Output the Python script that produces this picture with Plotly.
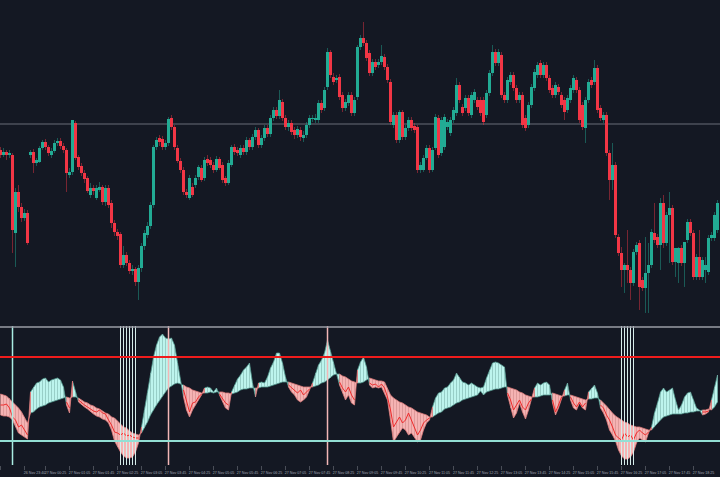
import plotly.graph_objects as go
import pandas as pd

# ---------------- price data (5-minute candles) ----------------
open_ = [850,845,848,845,845,767,808,793,782,787,
         845,848,837,838,852,858,853,845,849,857,
         859,854,850,825,828,877,843,834,827,822,
         805,812,802,810,813,798,812,797,777,768,
         766,735,745,737,729,731,718,732,754,765,
         774,795,853,862,861,853,857,882,873,852,
         839,830,808,802,813,815,823,832,822,841,
         840,835,830,841,835,822,817,835,853,850,
         845,852,848,860,853,863,870,855,862,872,
         866,882,890,884,898,882,873,877,870,865,
         870,862,865,875,881,880,880,897,892,913,
         948,923,920,923,905,892,897,905,887,903,
         953,962,957,947,927,938,935,938,943,933,
         918,875,885,860,888,863,872,880,874,873,
         830,830,842,852,830,852,882,847,853,873,
         867,880,887,915,893,892,902,885,900,900,
         900,900,885,907,927,948,937,945,905,900,
         918,925,912,900,905,882,875,895,912,925,
         937,925,935,922,912,905,913,905,900,890,
         900,910,920,910,895,872,900,920,918,932,
         892,880,885,847,820,835,763,747,730,735,
         730,717,748,757,720,712,727,735,767,763,
         755,797,757,785,792,738,737,752,737,760,
         778,767,723,743,723,730,728,762,762,770]
close = [845,848,845,847,770,808,793,782,787,757,
         848,837,840,852,858,853,847,849,857,859,
         854,850,827,828,880,842,833,827,821,809,
         812,809,812,813,798,812,795,777,768,764,
         735,745,737,729,731,718,732,754,767,774,
         795,853,860,858,853,857,881,873,853,839,
         830,808,805,822,805,822,833,820,840,837,
         835,830,841,832,820,817,837,853,848,847,
         852,848,860,853,863,870,855,862,872,866,
         882,890,884,900,882,873,877,868,865,871,
         863,865,875,882,882,882,897,890,910,948,
         925,918,922,903,892,898,905,887,900,953,
         962,957,942,927,938,933,938,944,933,920,
         878,885,860,888,863,872,880,872,870,830,
         835,842,852,830,850,883,845,880,883,878,
         880,890,915,900,887,902,887,905,908,893,
         887,878,907,927,948,937,948,905,900,920,
         925,912,900,905,875,872,895,913,928,935,
         925,935,922,910,905,915,908,895,888,902,
         912,922,910,880,873,900,918,915,932,890,
         882,885,847,820,835,765,747,730,735,730,
         717,748,755,713,712,727,735,768,760,755,
         797,757,785,792,738,752,752,737,758,778,
         767,723,743,723,740,735,762,765,785,797]
high = [853,852,850,850,847,812,815,797,791,790,
        850,851,842,854,860,861,855,852,860,862,
        862,857,852,832,880,879,845,837,830,824,
        817,815,815,818,815,815,815,800,780,771,
        768,754,748,740,735,733,735,757,770,778,
        798,855,863,865,864,860,883,885,875,855,
        842,833,811,825,817,825,835,835,843,845,
        843,838,844,843,838,824,840,855,856,853,
        855,855,863,862,866,873,872,865,875,875,
        885,893,893,910,901,885,880,880,873,874,
        873,869,878,885,885,886,900,900,913,952,
        950,927,925,926,908,901,908,908,903,955,
        965,978,960,950,941,941,941,955,946,936,
        921,888,888,890,890,875,883,883,877,875,
        838,845,855,855,853,886,885,883,886,881,
        883,893,922,918,896,905,905,908,911,903,
        903,903,910,930,955,951,951,948,908,923,
        928,928,915,908,908,885,898,916,931,938,
        940,938,938,925,915,918,916,908,903,905,
        915,925,923,913,898,903,921,923,940,935,
        895,888,888,850,857,838,766,753,737,770,
        733,751,758,760,723,763,757,771,797,766,
        802,805,788,808,795,752,753,755,758,781,
        781,770,746,770,743,743,765,768,788,800]
low = [842,843,840,842,747,733,788,778,779,755,
       842,827,834,837,850,850,844,842,847,854,
       851,847,808,822,825,840,830,824,817,807,
       802,805,800,808,795,794,792,772,764,760,
       732,732,734,726,725,714,700,728,750,762,
       771,792,850,854,850,850,854,870,850,837,
       827,805,802,800,803,812,820,818,819,834,
       832,827,828,830,817,814,815,833,845,844,
       842,845,845,850,850,860,852,852,859,863,
       863,879,881,881,879,870,869,865,861,862,
       859,858,862,872,878,877,877,887,889,910,
       922,915,917,900,888,889,894,884,884,900,
       950,954,939,924,924,930,932,935,930,917,
       875,872,857,857,860,860,869,869,867,827,
       827,828,840,827,828,850,842,844,850,870,
       864,877,884,897,884,889,884,882,897,890,
       884,875,882,904,924,934,934,902,897,897,
       915,909,897,897,872,869,872,892,909,922,
       922,922,919,907,902,902,905,892,880,887,
       897,907,907,877,870,857,897,912,915,887,
       879,877,844,800,810,762,744,713,707,717,
       700,714,745,690,709,687,687,732,757,752,
       730,752,754,737,735,723,717,734,713,757,
       764,720,720,720,720,717,725,759,759,767]
price_line = 876

# ---------------- oscillator data ----------------
osc_fast = [47,46,46,45,42,35,29,27,25,23,
            70,75,79,80,83,84,80,82,83,84,82,75,
            57,49,
            81,70,
            60,57,55,53,50,48,46,45,43,42,39,32,21,15,10,6,4,4,5,10,19,
            35,52,69,89,105,117,125,128,124,123,124,117,99,79,
            65,52,45,52,57,62,67,
            74,75,74,70,74,
            67,60,54,52,
            70,77,83,87,92,95,99,79,
            65,
            79,80,79,85,94,100,109,109,99,85,
            75,70,67,62,60,62,65,72,
            79,89,97,102,109,122,110,100,89,
            77,69,62,67,59,57,
            92,100,105,95,
            77,74,75,74,75,69,62,42,20,25,30,34,32,27,29,25,20,22,32,39,42,
            55,64,69,70,74,75,79,82,89,85,80,79,77,79,77,75,74,75,84,92,99,100,99,97,95,
            67,54,44,49,59,50,43,52,62,
            74,79,77,79,80,77,
            59,47,54,64,
            72,79,
            62,54,52,59,54,52,
            70,74,77,69,
            54,49,42,32,27,21,12,6,3,3,5,10,19,24,22,20,29,
            35,49,59,70,74,70,72,74,62,52,57,65,69,70,62,54,52,
            47,48,50,
            62,75,87]
osc_slow = [68,67,66,64,60,57,54,50,45,39,
            49,50,53,55,56,57,59,60,61,62,63,64,
            65,64,
            65,65,
            64,62,60,59,57,56,54,53,51,49,48,45,44,40,38,35,34,31,29,28,27,
            29,34,40,47,52,57,62,66,70,74,76,78,79,78,
            77,75,74,72,71,70,69,
            69,69,70,69,70,
            70,70,69,69,
            68,69,70,72,73,73,74,74,
            74,
            74,75,75,75,76,77,78,79,80,80,
            80,79,78,77,76,75,75,75,
            75,76,77,79,80,82,84,87,88,
            88,86,85,83,81,80,
            79,79,80,82,
            84,83,82,81,81,80,74,67,64,62,60,59,57,55,54,52,50,49,48,47,45,
            45,47,49,50,53,54,55,57,59,60,62,63,64,65,66,67,71,67,70,71,72,73,73,74,75,
            75,74,73,72,70,69,67,66,65,
            65,65,66,67,67,67,
            69,68,67,66,
            66,67,
            67,66,65,64,63,62,
            63,63,64,64,
            62,59,56,53,49,46,44,42,40,39,37,36,35,35,34,33,32,
            32,35,39,42,45,46,47,48,48,48,48,49,49,50,50,51,51,
            52,52,53,
            52,55,60]
N = None
osc_sig = [57,57,58,54,45,42,35,37,32,27,
           N,N,N,N,N,N,N,N,N,N,N,N,
           60,54,
           N,N,
           62,59,57,55,53,51,50,52,49,48,42,37,30,29,27,29,26,27,25,24,24,
           N,N,N,N,N,N,N,N,N,N,N,N,N,N,
           72,62,50,59,60,65,68,
           N,N,N,N,N,
           68,64,59,57,
           N,N,N,N,N,N,N,N,
           68,
           N,N,N,N,N,N,N,N,N,N,
           77,74,71,69,72,67,70,73,
           N,N,N,N,N,N,N,N,N,
           80,74,70,75,67,62,
           N,N,N,N,
           79,77,78,75,78,74,65,52,35,40,45,39,42,49,42,35,27,32,39,42,44,
           N,N,N,N,N,N,N,N,N,N,N,N,N,N,N,N,N,N,N,N,N,N,N,N,N,
           69,62,52,57,62,55,52,59,63,
           N,N,N,N,N,N,
           62,50,57,65,
           N,N,
           65,59,55,60,55,59,
           N,N,N,N,
           57,54,47,42,35,27,24,22,29,25,27,22,29,32,29,27,30,
           N,N,N,N,N,N,N,N,N,N,N,N,N,N,N,N,N,
           50,50,51,
           N,N,N]
level_top = 135
level_high = 105
level_low = 21

# signal bars (candle indices) marked by vertical lines
signal_cyan = [4]
signal_white = [40, 41, 42, 43, 44, 45, 207, 208, 209, 210, 211]
signal_pink = [56, 109]

tick_labels = ["26 Nov 23:00", "26 Nov 23:40",
               "27 Nov 00:25", "27 Nov 01:05", "27 Nov 01:45", "27 Nov 02:25",
               "27 Nov 03:05", "27 Nov 03:45", "27 Nov 04:25", "27 Nov 05:05",
               "27 Nov 05:45", "27 Nov 06:25", "27 Nov 07:05", "27 Nov 07:45",
               "27 Nov 08:25", "27 Nov 09:05", "27 Nov 09:45", "27 Nov 10:25",
               "27 Nov 11:05", "27 Nov 11:45", "27 Nov 12:25", "27 Nov 13:05",
               "27 Nov 13:45", "27 Nov 14:25", "27 Nov 15:05", "27 Nov 15:45",
               "27 Nov 16:25", "27 Nov 17:05", "27 Nov 17:45", "27 Nov 18:25"]

# ---------------- build ----------------
n = len(close)
times = list(pd.date_range("2024-11-26 23:00", periods=10, freq="5min")) + \
        list(pd.date_range("2024-11-27 00:00", periods=n - 10, freq="5min"))
tstr = [t.strftime("%d Nov %H:%M") for t in times]
xs = list(range(n))
tickvals = [i for i in xs if tstr[i] in tick_labels]
ticktext = [tstr[i] for i in tickvals]

BG = "#141823"
UP = "#22ab94"
DN = "#f23645"
UPW = "rgba(34,171,148,0.45)"
DNW = "rgba(242,54,69,0.45)"

fig = go.Figure()

def wicks(sel):
    wx, wy = [], []
    for i in sel:
        wx += [i, i, None]
        wy += [low[i], high[i], None]
    return wx, wy

up_idx = [i for i in xs if close[i] >= open_[i]]
dn_idx = [i for i in xs if close[i] < open_[i]]
for sel, col in ((up_idx, UPW), (dn_idx, DNW)):
    wx, wy = wicks(sel)
    fig.add_trace(go.Scatter(x=wx, y=wy, mode="lines", line=dict(color=col, width=1),
                             xaxis="x", yaxis="y", hoverinfo="skip", showlegend=False))

fig.add_trace(go.Bar(x=xs, base=open_, y=[c - o for o, c in zip(open_, close)], width=0.7,
                     marker=dict(color=[UP if c >= o else DN for o, c in zip(open_, close)],
                                 line=dict(width=0)),
                     xaxis="x", yaxis="y", hoverinfo="skip", showlegend=False))

# ---------------- oscillator band (filled between fast and slow) ----------------
CY, CYL, CYE = "#bdf4ed", "#7fb3ac", "#4f958c"
PK, PKL, PKE = "#f5b3b3", "#cf8a8a", "#e07a7a"
bull = [f >= s for f, s in zip(osc_fast, osc_slow)]

runs = []
start = 0
for i in range(1, n + 1):
    if i == n or bull[i] != bull[start]:
        runs.append((start, i - 1, bull[start]))
        start = i

for state, fill, hatch, edge in ((True, CY, CYL, CYE), (False, PK, PKL, PKE)):
    px, py = [], []
    for a, b, s in runs:
        if s != state:
            continue
        b2 = min(b + 1, n - 1)
        idx = list(range(a, b2 + 1))
        px += idx + idx[::-1] + [None]
        py += [osc_fast[i] for i in idx] + [osc_slow[i] for i in idx[::-1]] + [None]
    fig.add_trace(go.Scatter(x=px, y=py, mode="lines", fill="toself", fillcolor=fill,
                             line=dict(color=edge, width=0.8),
                             xaxis="x", yaxis="y2", hoverinfo="skip", showlegend=False))
    hx, hy = [], []
    for i in xs:
        if bull[i] == state:
            hx += [i, i, None]
            hy += [osc_slow[i], osc_fast[i], None]
    fig.add_trace(go.Scatter(x=hx, y=hy, mode="lines", line=dict(color=hatch, width=0.6),
                             xaxis="x", yaxis="y2", hoverinfo="skip", showlegend=False))

fig.add_trace(go.Scatter(x=xs, y=osc_sig, mode="lines", connectgaps=False,
                         line=dict(color="#ef2b2b", width=1),
                         xaxis="x", yaxis="y2", hoverinfo="skip", showlegend=False))

shapes = []
for idx_list, col, w in ((signal_cyan, "#a9ece3", 1.5), (signal_white, "#d6ecea", 1.0),
                         (signal_pink, "#f2b6b6", 1.5)):
    for i in idx_list:
        shapes.append(dict(type="line", xref="x", yref="y2 domain", x0=i, x1=i, y0=0, y1=1,
                           line=dict(color=col, width=w)))
shapes.append(dict(type="line", xref="paper", yref="y2", x0=0, x1=1, y0=level_top, y1=level_top,
                   line=dict(color="#9a9da6", width=1.5)))
shapes.append(dict(type="line", xref="paper", yref="y2", x0=0, x1=1, y0=level_high, y1=level_high,
                   line=dict(color="#f01c1c", width=2)))
shapes.append(dict(type="line", xref="paper", yref="y2", x0=0, x1=1, y0=level_low, y1=level_low,
                   line=dict(color="#93dfd4", width=2)))
shapes.append(dict(type="line", xref="paper", yref="y", x0=0, x1=1, y0=price_line, y1=price_line,
                   line=dict(color="#4d515c", width=1.5), layer="below"))

fig.update_layout(
    width=720, height=477,
    margin=dict(l=0, r=0, t=0, b=12),
    paper_bgcolor=BG, plot_bgcolor=BG,
    barmode="overlay", bargap=0,
    hovermode=False, showlegend=False,
    shapes=shapes,
    xaxis=dict(range=[-0.17, 239.83], anchor="y2", showgrid=False, zeroline=False,
               tickvals=tickvals, ticktext=ticktext, ticks="outside", ticklen=4,
               tickcolor="#4a4e58", tickwidth=1, ticklabelshift=10, ticklabelstandoff=0,
               tickfont=dict(size=3.6, color="#a3a8b2",
                             family="Liberation Sans Narrow, Liberation Sans, Arial, sans-serif"),
               showline=False, automargin=False, tickangle=0),
    yaxis=dict(domain=[0.3054, 1], range=[677, 1000], visible=False, fixedrange=True),
    yaxis2=dict(domain=[0, 0.2989], range=[-3, 136], visible=False, anchor="x", fixedrange=True),
)

fig.write_html("out.html")
